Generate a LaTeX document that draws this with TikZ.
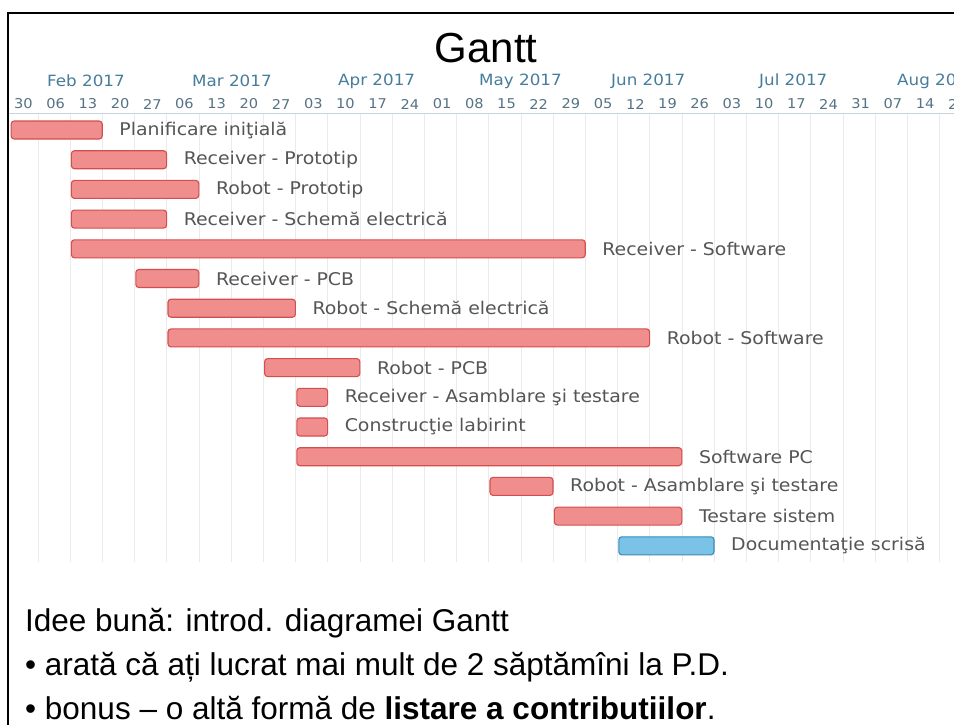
\documentclass[tikz,border=0pt]{standalone}
\usepackage{fontspec}
\setmainfont{Liberation Sans}
\newfontfamily\ganttfont[FakeStretch=1.08]{DejaVu Sans}
\definecolor{barfill}{RGB}{240,142,142}
\definecolor{barline}{RGB}{212,78,78}
\definecolor{bluefill}{RGB}{122,194,230}
\definecolor{blueline}{RGB}{58,140,185}
\definecolor{lbltext}{RGB}{85,85,85}
\definecolor{monthtext}{RGB}{70,125,155}
\definecolor{daytext}{RGB}{85,115,132}
\definecolor{gridcol}{RGB}{234,234,234}
\definecolor{headcol}{RGB}{200,212,220}
\tikzset{
  pinkbar/.style={draw=barline, fill=barfill, line width=1.1pt, rounded corners=3pt, minimum height=18pt, inner sep=0pt, outer sep=0pt},
  bluebar/.style={draw=blueline, fill=bluefill, line width=1.1pt, rounded corners=3pt, minimum height=18pt, inner sep=0pt, outer sep=0pt},
  tasklbl/.style={text=lbltext, font=\ganttfont\fontsize{17.5}{20}\selectfont, inner sep=0pt},
  monthlbl/.style={text=monthtext, font=\ganttfont\fontsize{15.5}{18}\selectfont, inner sep=0pt, anchor=west},
  daylbl/.style={text=daytext, font=\ganttfont\fontsize{13.5}{16}\selectfont, inner sep=0pt},
  gridline/.style={draw=gridcol, line width=0.9pt},
  headline/.style={draw=headcol, line width=1pt},
  bodytext/.style={font=\fontsize{31.5}{38}\selectfont, inner sep=0pt, anchor=base west},
}
\begin{document}
\begin{tikzpicture}[x=1pt, y=-1pt]
\useasboundingbox[fill=white] (0,0) rectangle (954,725);
\begin{scope}
\clip (9,14) rectangle (954,725);
% grid
\foreach \k in {0,...,28} {
  \draw[gridline] ({38+32.2*\k},114) -- ({38+32.2*\k},562);
}
\draw[headline] (9,114) -- (954,114);
% month labels
\node[monthlbl] (mfeb) at (47,81) {Feb 2017};
\node[monthlbl] (mmar) at (192,81) {Mar 2017};
\node[monthlbl] (mapr) at (338,81) {Apr 2017};
\node[monthlbl] (mmay) at (479,81) {May 2017};
\node[monthlbl] (mjun) at (611,81) {Jun 2017};
\node[monthlbl] (mjul) at (759,81) {Jul 2017};
\node[monthlbl] (maug) at (897,81) {Aug 2017};
% day labels
\foreach \d [count=\i from 0] in {30,06,13,20,27,06,13,20,27,03,10,17,24,01,08,15,22,29,05,12,19,26,03,10,17,24,31,07,14,21} {
  \node[daylbl] (day\i) at ({23.5+32.2*\i},104) {\d};
}
% bars
\foreach \r/\a/\b/\t/\s in {
  1/-0.87/2/Planificare iniţială/pinkbar,
  2/1/4/Receiver - Prototip/pinkbar,
  3/1/5/Robot - Prototip/pinkbar,
  4/1/4/Receiver - Schemă electrică/pinkbar,
  5/1/17/Receiver - Software/pinkbar,
  6/3/5/Receiver - PCB/pinkbar,
  7/4/8/Robot - Schemă electrică/pinkbar,
  8/4/19/Robot - Software/pinkbar,
  9/7/10/Robot - PCB/pinkbar,
  10/8/9/Receiver - Asamblare şi testare/pinkbar,
  11/8/9/Construcţie labirint/pinkbar,
  12/8/20/Software PC/pinkbar,
  13/14/16/Robot - Asamblare şi testare/pinkbar,
  14/16/20/Testare sistem/pinkbar,
  15/18/21/Documentaţie scrisă/bluebar} {
  \pgfmathsetmacro\xa{38+32.2*\a+1.2}
  \pgfmathsetmacro\xb{38+32.2*\b-0.2}
  \pgfmathsetmacro\yy{130+29.7*(\r-1)}
  \pgfmathsetmacro\ww{\xb-\xa}
  \node[\s, minimum width=\ww pt, anchor=west] (bar\r) at (\xa,\yy) {};
  \node[tasklbl, anchor=west] (lbl\r) at ([xshift=17pt]bar\r.east) {\t};
}
\end{scope}
% title
\node[font=\fontsize{42}{50}\selectfont, inner sep=0pt, anchor=base] (title) at (486,63) {Gantt};
% body text
\node[bodytext] (line1) at (25,631) {Idee bună: introd. diagramei Gantt};
\node[bodytext] (line2) at (25,675) {• arată că ați lucrat mai mult de 2 săptămîni la P.D.};
\node[bodytext] (line3) at (25,719) {• bonus – o altă formă de \textbf{listare a contributiilor}.};
% frame
\draw[line width=2.3pt] (954,12.8) -- (7.8,12.8) -- (7.8,725);
\end{tikzpicture}
\end{document}
